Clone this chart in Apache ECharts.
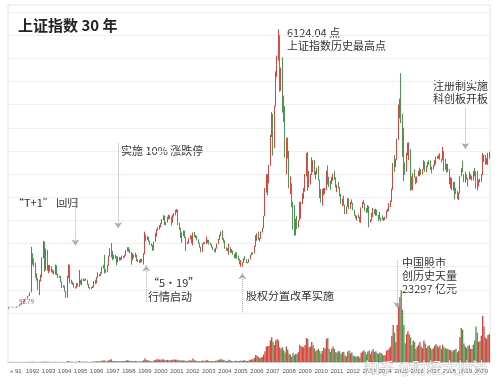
<!DOCTYPE html>
<html><head><meta charset="utf-8">
<script src="https://cdn.jsdelivr.net/npm/echarts@6/dist/echarts.min.js"></script>
<style>html,body{margin:0;padding:0;background:#fff}#c{width:504px;height:392px}</style>
</head><body><div id="c"></div>
<script>
// Monthly candles [open, close, low, high], Dec 1990 .. Dec 2020
const ohlc1990s = [
[96,128,96,128],
[128,130,128,135],[130,134,129,135],[134,120,118,134],[120,114,113,121],[114,115,105,116],[115,138,114,138],[138,146,137,146],[146,178,145,180],[178,181,176,191],[181,219,180,219],[219,260,218,260],[260,293,259,293],
[293,313,292,314],[313,365,312,365],[365,372,362,378],[372,445,370,445],[445,1266,444,1429],[1266,1166,1042,1290],[1166,1067,1000,1180],[1067,822,760,1090],[822,741,700,860],[741,508,500,760],[508,700,386,720],[700,780,680,830],
[780,1183,770,1200],[1183,1536,1180,1558],[1536,925,890,1540],[925,1358,920,1392],[1358,935,910,1360],[935,1007,860,1040],[1007,1008,900,1040],[1008,899,880,1010],[899,906,860,940],[906,845,830,920],[845,1014,830,1045],[1014,833,820,1030],
[833,770,760,850],[770,793,760,800],[793,672,660,800],[672,554,540,680],[554,585,550,600],[585,466,460,590],[466,333,325,470],[333,755,330,800],[755,1033,750,1052],[1033,685,640,1040],[685,654,630,720],[654,648,610,680],
[648,562,550,650],[562,549,524,570],[549,633,545,650],[633,577,570,640],[577,701,560,926],[701,630,620,710],[630,722,600,740],[722,712,690,750],[712,708,690,730],[708,716,700,740],[716,621,600,720],[621,555,540,630],
[555,537,512,560],[537,553,520,560],[553,559,540,580],[559,682,550,690],[682,643,620,720],[643,764,640,780],[764,825,760,880],[825,816,790,840],[816,860,800,880],[860,963,850,1000],[963,1015,960,1040],[1015,917,855,1258],
[917,914,870,950],[914,1031,880,1040],[1031,1228,1020,1240],[1228,1375,1220,1400],[1375,1336,1200,1510],[1336,1199,1140,1340],[1199,1235,1160,1260],[1235,1219,1180,1260],[1219,1098,1030,1230],[1098,1191,1090,1220],[1191,1167,1130,1210],[1167,1194,1140,1200],
[1194,1220,1150,1240],[1220,1206,1180,1230],[1206,1244,1200,1260],[1244,1343,1240,1360],[1343,1411,1330,1420],[1411,1339,1320,1422],[1339,1313,1290,1380],[1313,1150,1043,1320],[1150,1247,1140,1290],[1247,1217,1190,1260],[1217,1248,1200,1300],[1248,1147,1120,1260],
[1147,1134,1100,1160],[1134,1090,1080,1150],[1090,1158,1085,1170],[1158,1120,1100,1170],[1120,1280,1047,1290],[1280,1690,1270,1756],[1690,1602,1550,1700],[1602,1627,1580,1660],[1627,1551,1530,1640],[1551,1493,1470,1560],[1493,1463,1440,1500],[1463,1367,1341,1470]
];
const ohlc2000s = [
[1367,1535,1360,1540],[1535,1714,1530,1730],[1714,1800,1650,1810],[1800,1836,1780,1850],[1836,1894,1800,1900],[1894,1928,1850,1940],[1928,2023,1920,2030],[2023,2101,2000,2114],[2101,1910,1900,2100],[1910,1961,1900,1970],[1961,2070,1950,2075],[2070,2073,2020,2125],
[2073,2065,2030,2110],[2065,1960,1890,2080],[1960,2112,1950,2120],[2112,2119,2080,2160],[2119,2214,2110,2230],[2214,2218,2170,2245],[2218,1920,1900,2230],[1920,1834,1800,1950],[1834,1642,1620,1840],[1642,1690,1514,1740],[1690,1747,1660,1780],[1747,1646,1620,1780],
[1646,1491,1339,1650],[1491,1524,1480,1540],[1524,1603,1510,1610],[1603,1667,1590,1680],[1667,1515,1500,1670],[1515,1732,1460,1740],[1732,1651,1640,1750],[1651,1660,1620,1680],[1660,1581,1570,1670],[1581,1507,1500,1590],[1507,1421,1410,1520],[1421,1358,1311,1430],
[1358,1499,1320,1500],[1499,1512,1480,1530],[1512,1511,1490,1530],[1511,1521,1490,1650],[1521,1576,1510,1580],[1576,1487,1480,1580],[1487,1477,1470,1520],[1477,1421,1410,1490],[1421,1367,1360,1430],[1367,1349,1320,1380],[1349,1397,1307,1410],[1397,1497,1390,1500],
[1497,1590,1490,1600],[1590,1675,1580,1690],[1675,1742,1660,1760],[1742,1595,1580,1783],[1595,1555,1520,1620],[1555,1399,1390,1570],[1399,1386,1350,1420],[1386,1342,1330,1400],[1342,1396,1260,1500],[1396,1320,1300,1420],[1320,1340,1300,1380],[1340,1266,1260,1350],
[1266,1191,1180,1270],[1191,1306,1180,1310],[1306,1181,1170,1310],[1181,1159,1140,1240],[1159,1060,1050,1170],[1060,1080,998,1140],[1080,1083,1004,1090],[1083,1162,1080,1180],[1162,1155,1140,1230],[1155,1092,1080,1160],[1092,1099,1070,1100],[1099,1161,1090,1170],
[1161,1258,1160,1260],[1258,1299,1250,1310],[1299,1298,1260,1310],[1298,1440,1290,1450],[1440,1641,1430,1680],[1641,1672,1560,1720],[1672,1612,1580,1757],[1612,1601,1540,1620],[1601,1752,1600,1760],[1752,1837,1740,1840],[1837,2099,1830,2100],[2099,2675,2090,2700],
[2675,2786,2600,2995],[2786,2881,2541,3000],[2881,3183,2800,3200],[3183,3841,3180,3850],[3841,4109,3800,4335],[4109,3820,3400,4300],[3820,4471,3560,4480],[4471,5218,4460,5220],[5218,5552,5100,5560],[5552,5954,5450,6124],[5954,4871,4778,6000],[4871,5262,4800,5300],
[5262,4383,4330,5522],[4383,4348,4123,4695],[4348,3472,3357,4472],[3472,3693,2990,3786],[3693,3433,3333,3786],[3433,2736,2693,3500],[2736,2775,2566,2952],[2775,2397,2284,2800],[2397,2293,1802,2400],[2293,1729,1664,2333],[1729,1871,1678,2030],[1871,1821,1814,2100],
[1821,1991,1844,2000],[1991,2082,1990,2402],[2082,2373,2037,2403],[2373,2477,2353,2580],[2477,2632,2460,2700],[2632,2959,2620,3000],[2959,3412,2950,3455],[3412,2667,2640,3478],[2667,2779,2712,3068],[2779,2996,2780,3000],[2996,3195,2980,3361],[3195,3277,3039,3300]
];
const ohlc2010s = [
[3277,2989,2985,3306],[2989,3051,2890,3060],[3051,3110,2995,3140],[3110,2870,2860,3181],[2870,2592,2481,2880],[2592,2398,2382,2680],[2398,2638,2319,2680],[2638,2639,2540,2700],[2639,2656,2573,2700],[2656,2979,2655,3070],[2979,2820,2774,3186],[2820,2808,2722,2940],
[2808,2790,2661,2860],[2790,2905,2780,2940],[2905,2928,2855,3003],[2928,2911,2880,3067],[2911,2743,2710,2930],[2743,2762,2610,2770],[2762,2701,2690,2826],[2701,2568,2520,2720],[2568,2359,2356,2570],[2359,2468,2307,2470],[2468,2333,2320,2536],[2333,2199,2134,2340],
[2199,2292,2132,2300],[2292,2428,2290,2478],[2428,2262,2242,2478],[2262,2397,2250,2400],[2397,2373,2350,2453],[2373,2225,2220,2380],[2225,2103,2100,2230],[2103,2047,2040,2120],[2047,2086,1999,2100],[2086,2069,2050,2130],[2069,1980,1959,2080],[1980,2269,1949,2276],
[2269,2385,2260,2400],[2385,2366,2350,2444],[2366,2237,2200,2370],[2237,2178,2162,2270],[2178,2301,2170,2334],[2301,1979,1849,2311],[1979,1994,1950,2020],[1994,2098,1990,2160],[2098,2175,2070,2270],[2175,2141,2130,2240],[2141,2220,2100,2250],[2220,2116,2100,2230],
[2116,2033,1984,2120],[2033,2056,2030,2180],[2056,2033,1974,2060],[2033,2026,2010,2110],[2026,2039,1991,2060],[2039,2048,2010,2080],[2048,2202,2040,2210],[2202,2217,2180,2250],[2217,2364,2200,2370],[2364,2420,2290,2430],[2420,2683,2400,2690],[2683,3235,2660,3240],
[3235,3210,3050,3406],[3210,3310,3150,3320],[3310,3748,3300,3760],[3748,4442,3740,4500],[4442,4612,4200,4630],[4612,4277,4100,5178],[4277,3664,3373,4300],[3664,3206,2850,4000],[3206,3053,2983,3250],[3053,3383,3050,3460],[3383,3445,3400,3678],[3445,3539,3300,3684],
[3539,2738,2638,3540],[2738,2688,2660,2950],[2688,3004,2650,3020],[3004,2938,2930,3100],[2938,2917,2780,2945],[2917,2930,2810,2950],[2930,2979,2960,3070],[2979,3085,2950,3140],[3085,3005,2980,3100],[3005,3100,3000,3110],[3100,3250,3100,3301],[3250,3104,3050,3270],
[3104,3159,3040,3180],[3159,3242,3150,3260],[3242,3223,3200,3300],[3223,3155,3090,3295],[3155,3117,3016,3160],[3117,3192,3100,3200],[3192,3273,3170,3300],[3273,3361,3210,3375],[3361,3349,3330,3390],[3349,3393,3330,3420],[3393,3317,3310,3450],[3317,3307,3250,3320],
[3307,3481,3300,3587],[3481,3259,3062,3495],[3259,3169,3090,3334],[3169,3082,3040,3220],[3082,3095,3040,3220],[3095,2847,2780,3110],[2847,2876,2690,2930],[2876,2725,2650,2920],[2725,2821,2640,2830],[2821,2603,2450,2830],[2603,2588,2570,2700],[2588,2494,2460,2640],
[2494,2585,2440,2600],[2585,2941,2580,2960],[2941,3091,2950,3130],[3091,3078,3040,3288],[3078,2899,2830,3000],[2899,2979,2820,3050],[2979,2933,2880,2990],[2933,2886,2730,2910],[2886,2905,2880,3050],[2905,2929,2890,3000],[2929,2872,2860,2960],[2872,3050,2860,3070]
];
const ohlc2020 = [
[3050,2977,2950,3130],[2977,2880,2685,3060],[2880,2750,2646,3070],[2750,2860,2730,2880],[2860,2852,2820,2900],[2852,2985,2830,3000],[2985,3310,2980,3458],[3310,3396,3260,3420],[3396,3218,3200,3420],[3218,3225,3210,3340],[3225,3392,3200,3460],[3392,3473,3330,3480]
];
// Turnover (亿元), monthly peaks
const vol1990s = [2,
2,2,2,2,2,2,2,2,4,4,5,5,
9,9,11,14,55,45,27,22,18,18,27,27,
55,70,55,70,55,45,35,35,35,35,45,35,
35,25,25,25,25,25,35,220,270,110,70,70,
35,35,55,45,350,70,90,70,60,55,45,35,
35,35,55,150,150,220,270,220,270,450,450,550,
270,350,550,700,900,350,270,320,270,320,220,220,
320,270,350,450,550,450,350,270,350,270,350,220,
180,150,270,220,550,1100,700,550,450,350,270,220];
const vol2000s = [
550,700,900,800,800,700,800,900,600,600,700,600,
600,600,800,700,800,700,600,550,450,550,450,450,
350,320,450,550,450,1100,550,450,350,320,280,280,
450,400,350,600,550,350,350,320,280,280,400,450,
600,800,900,800,550,450,350,350,700,450,350,280,
250,450,350,350,350,450,350,550,550,350,350,450,
700,900,800,1300,2300,2000,1700,1300,1500,1700,2400,3500,
5000,5200,5200,7000,8000,6500,5500,7000,7500,7000,4800,4300,
4800,3800,3100,5000,4000,2700,2400,1700,3000,2200,2700,2600,
3200,5500,5000,5000,4800,5500,7800,7500,4800,5000,6500,5400];
const vol2010s = [
4400,3500,3900,4200,3600,2700,3600,4600,4400,7500,7800,4200,
3300,4400,5000,4200,3200,3100,3600,3400,2500,3200,3300,2100,
1800,3400,3700,2800,3200,2100,1900,1700,1900,1900,1500,3000,
3400,3800,3300,2500,3400,3700,2600,3500,4200,3300,3500,2900,
2600,3100,2900,2500,2100,2300,3700,3900,4400,5000,8500,12000,
9500,6500,12000,18000,21000,23297,17000,12000,6000,9000,10000,9000,
8000,5500,7000,6500,4200,5000,5600,6500,5000,4500,7000,6000,
4500,5200,5400,4600,4000,4500,5200,5800,5300,4800,5400,4300,
5600,4800,4500,4300,4300,3900,3900,3400,3800,4000,4300,3200,
3600,8000,11000,10500,6000,5000,4500,5200,5500,4300,4200,5600];
const vol2020 = [7000,11500,9500,6500,6800,8500,15000,11500,8000,7500,8800,9000];

const months = ['1990-12'];
for (let y = 1991; y <= 2020; y++) for (let m = 1; m <= 12; m++) months.push(y + '-' + (m < 10 ? '0' + m : m));

const candles = ohlc1990s.concat(ohlc2000s, ohlc2010s, ohlc2020);
const volumes = vol1990s.concat(vol2000s, vol2010s, vol2020);

const UP = '#d4483f', DOWN = '#4f9653';
const volData = volumes.map((v, i) => ({value: v, itemStyle: {color: candles[i][1] >= candles[i][0] ? UP : DOWN}}));

const FONT = '"Noto Sans CJK SC", "Noto Sans", sans-serif';
const TXT = '#333';
const ARROW = '#a9a9bf';

function arrow(idx, v1, v2) { return [{coord: [months[idx], v1]}, {coord: [months[idx], v2]}]; }

const chart = echarts.init(document.getElementById('c'), null, {renderer: 'canvas'});
chart.setOption({
  animation: false,
  backgroundColor: '#fff',
  grid: [
    {left: 8, right: 14, top: 12, bottom: 79},
    {left: 8, right: 14, top: 285, bottom: 30}
  ],
  xAxis: [
    {type: 'category', gridIndex: 0, data: months, boundaryGap: true, show: false},
    {type: 'category', gridIndex: 1, data: months, boundaryGap: true,
      axisLine: {lineStyle: {color: '#c8c8c8'}}, axisTick: {show: false},
      axisLabel: {
        interval: (i, v) => v.slice(5) === '01',
        formatter: v => v.slice(0, 4) === '1991' ? '« 91' : v.slice(0, 4),
        align: 'left', fontSize: 6, margin: 6, color: '#555',
        fontFamily: '"Liberation Sans Narrow", "Liberation Sans", sans-serif'
      }}
  ],
  yAxis: [
    {type: 'value', gridIndex: 0, min: 0, max: 6500, interval: 500,
      axisLabel: {show: false}, axisLine: {show: false}, axisTick: {show: false},
      splitLine: {lineStyle: {color: '#efefef', width: 1}}},
    {type: 'value', gridIndex: 1, min: 0, max: 25000, show: false, splitLine: {show: false}}
  ],
  graphic: [
    {type: 'rect', shape: {x: 8, y: 5, width: 482, height: 357}, style: {fill: 'none', stroke: '#e2e2e2', lineWidth: 1}, silent: true, z: -1},
    {type: 'text', left: 18, top: 18, style: {text: '上证指数 30 年', font: 'bold 15px ' + FONT, fill: '#222'}},
    {type: 'text', left: 287, top: 27, style: {text: '6124.04 点', font: '11px ' + FONT, fill: TXT}},
    {type: 'text', left: 287, top: 40, style: {text: '上证指数历史最高点', font: '11px ' + FONT, fill: TXT}},
    {type: 'text', right: 16, top: 79, style: {text: '注册制实施\n科创板开板', font: '11px ' + FONT, fill: TXT, lineHeight: 13, align: 'right'}},
    {type: 'text', left: 121, top: 145, style: {text: '实施 10% 涨跌停', font: '11px ' + FONT, fill: TXT}},
    {type: 'text', left: 13, top: 197, style: {text: '“T+1” 回归', font: '11px ' + FONT, fill: TXT}},
    {type: 'text', left: 148, top: 276, style: {text: '“5·19”\n行情启动', font: '11px ' + FONT, fill: TXT, lineHeight: 14}},
    {type: 'text', left: 246, top: 290, style: {text: '股权分置改革实施', font: '11px ' + FONT, fill: TXT}},
    {type: 'text', left: 402, top: 256, style: {text: '中国股市\n创历史天量\n23297 亿元', font: '11px ' + FONT, fill: TXT, lineHeight: 13}},
    {type: 'text', left: 19, top: 299, style: {text: '95.79', font: '6px ' + FONT, fill: UP}},
    {type: 'text', left: 364, top: 359, z: 100, style: {text: '知乎 @财经大护法', font: '15px ' + FONT, fill: 'rgba(255,255,255,0.9)', stroke: 'rgba(90,90,90,0.35)', lineWidth: 1}}
  ],
  series: [
    {type: 'candlestick', xAxisIndex: 0, yAxisIndex: 0, data: candles, barMaxWidth: 1.2, clip: false,
      itemStyle: {color: UP, color0: DOWN, borderColor: UP, borderColor0: DOWN, borderWidth: 1},
      markLine: {silent: true, symbol: ['none', 'arrow'], symbolSize: 6,
        lineStyle: {color: ARROW, type: 'dotted', width: 1}, label: {show: false},
        data: [
          arrow(50, 2475, 1455),
          arrow(82, 3660, 1830),
          arrow(103, 235, 1025),
          arrow(175, 20, 860),
          arrow(291, 1140, 110),
          arrow(342, 4420, 3540)
        ]}},
    {type: 'bar', xAxisIndex: 1, yAxisIndex: 1, data: volData, barCategoryGap: 0, barGap: 0}
  ]
});
</script></body></html>
